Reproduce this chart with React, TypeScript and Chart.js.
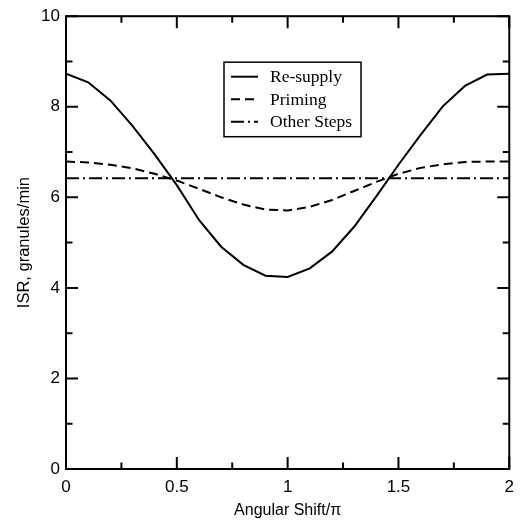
import React, { useEffect, useRef } from "react";
import { Chart, registerables } from "chart.js";

Chart.register(...registerables);

const angularShift = [0, 0.1, 0.2, 0.3, 0.4, 0.5, 0.6, 0.7, 0.8, 0.9, 1.0, 1.1, 1.2, 1.3, 1.4, 1.5, 1.6, 1.7, 1.8, 1.9, 2.0];
const resupply = [8.73, 8.54, 8.14, 7.58, 6.95, 6.27, 5.5, 4.91, 4.51, 4.27, 4.24, 4.43, 4.8, 5.35, 6.02, 6.72, 7.38, 8.01, 8.46, 8.71, 8.73];
const priming = [6.79, 6.77, 6.72, 6.64, 6.52, 6.37, 6.19, 6.0, 5.84, 5.73, 5.71, 5.79, 5.94, 6.14, 6.34, 6.52, 6.65, 6.73, 6.78, 6.79, 6.79];
const otherSteps = [6.42, 6.42, 6.42, 6.42, 6.42, 6.42, 6.42, 6.42, 6.42, 6.42, 6.42, 6.42, 6.42, 6.42, 6.42, 6.42, 6.42, 6.42, 6.42, 6.42, 6.42];

const seriesNames = ["Re-supply", "Priming", "Other Steps"];
const xTitle = "Angular Shift/\u03c0";
const yTitle = "ISR, granules/min";
const xMajorTicks = [0, 0.5, 1, 1.5, 2];
const xMinorTicks = [0.25, 0.75, 1.25, 1.75];
const yMajorTicks = [0, 2, 4, 6, 8, 10];
const yMinorTicks = [1, 3, 5, 7, 9];

const dashes: number[][] = [[], [9, 5], [13, 4, 2, 4]];

const SANS = "'Liberation Sans', Arial, Helvetica, sans-serif";
const SERIF = "'Liberation Serif', 'Times New Roman', serif";

const framePlugin = {
  id: "frameTicks",
  afterDatasetsDraw(chart: any) {
    const { ctx, chartArea: a, scales } = chart;
    const xs = scales.x;
    const ys = scales.y;
    ctx.save();
    ctx.strokeStyle = "#000";
    ctx.lineWidth = 2;
    ctx.setLineDash([]);
    ctx.strokeRect(a.left, a.top, a.right - a.left, a.bottom - a.top);
    const major = 12;
    const minor = 6.5;
    ctx.beginPath();
    const xt = (v: number, len: number) => {
      const p = xs.getPixelForValue(v);
      ctx.moveTo(p, a.bottom);
      ctx.lineTo(p, a.bottom - len);
      ctx.moveTo(p, a.top);
      ctx.lineTo(p, a.top + len);
    };
    const yt = (v: number, len: number) => {
      const p = ys.getPixelForValue(v);
      ctx.moveTo(a.left, p);
      ctx.lineTo(a.left + len, p);
      ctx.moveTo(a.right, p);
      ctx.lineTo(a.right - len, p);
    };
    xMajorTicks.forEach((v) => xt(v, major));
    xMinorTicks.forEach((v) => xt(v, minor));
    yMajorTicks.forEach((v) => yt(v, major));
    yMinorTicks.forEach((v) => yt(v, minor));
    ctx.stroke();

    // legend box
    const bx = a.left + 158;
    const by = a.top + 46;
    const bw = 137;
    const bh = 74.5;
    ctx.fillStyle = "#fff";
    ctx.fillRect(bx, by, bw, bh);
    ctx.lineWidth = 1.5;
    ctx.strokeRect(bx, by, bw, bh);
    ctx.font = `17.5px ${SERIF}`;
    ctx.fillStyle = "#000";
    ctx.textBaseline = "middle";
    ctx.textAlign = "left";
    seriesNames.forEach((name, i) => {
      const ry = by + 14.5 + i * 22.5;
      ctx.beginPath();
      ctx.lineWidth = 2;
      ctx.setLineDash(dashes[i]);
      ctx.moveTo(bx + 7, ry);
      ctx.lineTo(bx + 34, ry);
      ctx.stroke();
      ctx.setLineDash([]);
      ctx.fillText(name, bx + 46, ry + 1);
    });
    ctx.restore();
  },
};

export default function App() {
  const ref = useRef<HTMLCanvasElement>(null);
  useEffect(() => {
    if (!ref.current) return;
    const mk = (ys: number[]) => angularShift.map((x, i) => ({ x, y: ys[i] }));
    const chart = new Chart(ref.current, {
      type: "line",
      data: {
        datasets: [resupply, priming, otherSteps].map((ys, i) => ({
          label: seriesNames[i],
          data: mk(ys),
          borderColor: "#000",
          borderWidth: 2,
          borderDash: dashes[i],
          pointRadius: 0,
          fill: false,
          tension: 0,
        })),
      },
      options: {
        animation: false,
        responsive: false,
        maintainAspectRatio: false,
        layout: { padding: { top: 16, right: 4, left: 0, bottom: 0 } },
        plugins: { legend: { display: false }, tooltip: { enabled: false } },
        scales: {
          x: {
            type: "linear",
            min: 0,
            max: 2,
            grid: { display: false, drawTicks: false },
            border: { display: false },
            afterFit: (s: any) => {
              s.height = 54;
            },
            afterBuildTicks: (s: any) => {
              s.ticks = xMajorTicks.map((v) => ({ value: v }));
            },
            ticks: {
              padding: 8,
              color: "#000",
              font: { family: SANS, size: 17 },
              maxRotation: 0,
              autoSkip: false,
              callback: (v: any) => String(v),
            },
            title: {
              display: true,
              text: xTitle,
              color: "#000",
              font: { family: SANS, size: 16 },
              padding: { top: 0, bottom: 2.5 },
            },
          },
          y: {
            type: "linear",
            min: 0,
            max: 10,
            grid: { display: false, drawTicks: false },
            border: { display: false },
            afterFit: (s: any) => {
              s.width = 66;
            },
            afterBuildTicks: (s: any) => {
              s.ticks = yMajorTicks.map((v) => ({ value: v }));
            },
            ticks: {
              padding: 6,
              color: "#000",
              font: { family: SANS, size: 17 },
              autoSkip: false,
              callback: (v: any) => String(v),
            },
            title: {
              display: true,
              text: yTitle,
              color: "#000",
              font: { family: SANS, size: 16.5 },
              padding: { top: 15, bottom: 0 },
            },
          },
        },
      },
      plugins: [framePlugin],
    });
    return () => chart.destroy();
  }, []);
  return (
    <div style={{ position: "absolute", left: 0, top: 0, width: 522, height: 523, background: "#fff" }}>
      <canvas ref={ref} width={522} height={523} style={{ display: "block", width: 522, height: 523 }} />
    </div>
  );
}
